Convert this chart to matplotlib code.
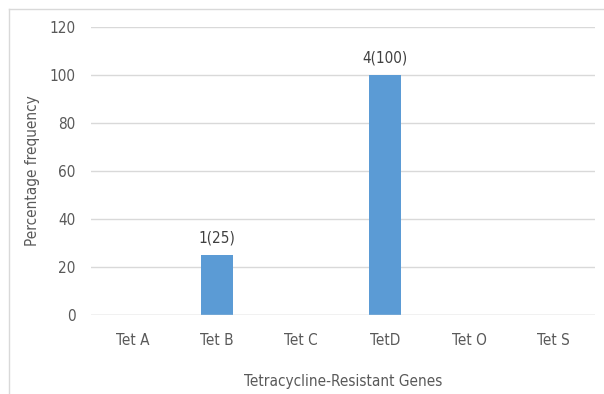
import matplotlib
matplotlib.use('Agg')
import matplotlib.pyplot as plt
from matplotlib.lines import Line2D

genes = ['Tet A', 'Tet B', 'Tet C', 'TetD', 'Tet O', 'Tet S']
percent = [0, 25, 0, 100, 0, 0]
bar_labels = ['', '1(25)', '', '4(100)', '', '']
yticks = [0, 20, 40, 60, 80, 100, 120]

plt.rcParams['font.family'] = ['DejaVu Sans']
plt.rcParams['font.stretch'] = 'condensed'
TXT = '#595959'
FS = 11

fig = plt.figure(figsize=(6.04, 3.94), dpi=100)
ax = fig.add_axes([91 / 604, 1 - 315 / 394, 504 / 604, 288 / 394])

x = range(len(genes))
bars = ax.bar(x, percent, width=0.37, color='#5B9BD5', zorder=3)
for b, lab in zip(bars, bar_labels):
    if lab:
        ax.annotate(lab, (b.get_x() + b.get_width() / 2, b.get_height()),
                    xytext=(0, 7), textcoords='offset points',
                    ha='center', va='bottom', fontsize=FS, color='#404040')

ax.set_xlim(-0.5, len(genes) - 0.5)
ax.set_ylim(0, 120)
ax.set_yticks(yticks)
ax.set_xticks(list(x))
ax.set_xticklabels(genes)
ax.grid(axis='y', color='#D9D9D9', linewidth=1, zorder=0)
for s in ax.spines.values():
    s.set_visible(False)
ax.axhline(0, color='#D9D9D9', linewidth=1, zorder=4)
ax.tick_params(axis='both', length=0, labelsize=FS, colors=TXT)
ax.tick_params(axis='x', pad=13)
ax.tick_params(axis='y', pad=11)

ax.set_xlabel('Tetracycline-Resistant Genes', fontsize=FS, color=TXT, labelpad=19)
ax.set_ylabel('Percentage frequency', fontsize=FS, color=TXT, labelpad=7)

# chart frame
fig.add_artist(Line2D([8.5 / 604, 8.5 / 604], [0, 1 - 9 / 394], color='#D9D9D9', lw=1))
fig.add_artist(Line2D([8.5 / 604, 1], [1 - 9 / 394, 1 - 9 / 394], color='#D9D9D9', lw=1))

fig.savefig('out.png', dpi=100)
